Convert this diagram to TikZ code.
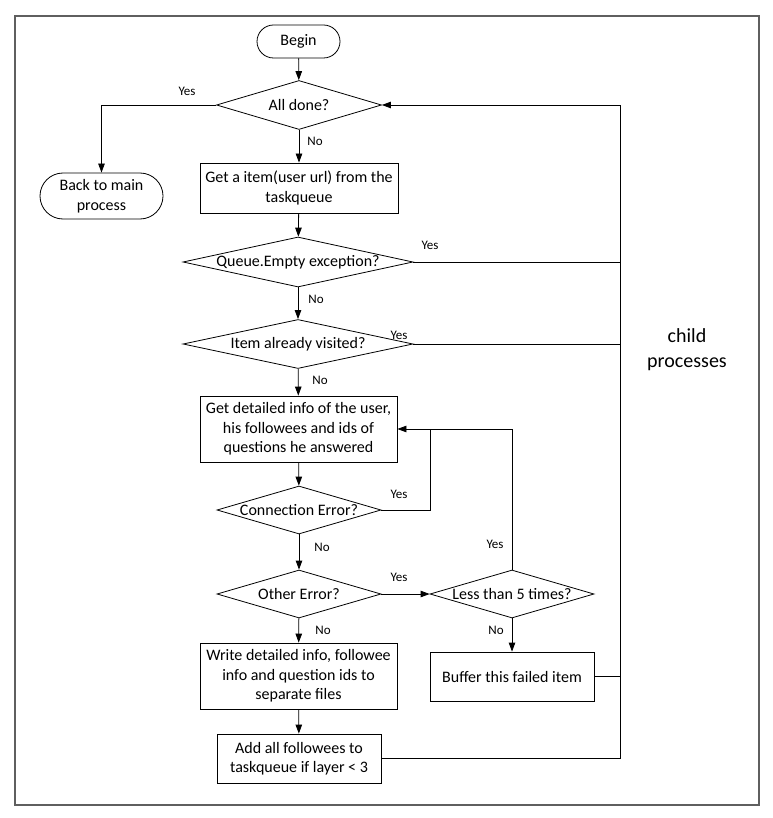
\documentclass[tikz,border=0pt]{standalone}
\usepackage{fontspec}
\setmainfont{Carlito}
\usetikzlibrary{positioning,arrows.meta,shapes.geometric,shapes.misc}
\definecolor{fgray}{RGB}{95,95,95}
\tikzset{
  term/.style={rounded rectangle, draw, line width=0.8pt, inner sep=0pt, align=center, font=\fontsize{16}{19.5}\selectfont},
  dec/.style={diamond, draw, line width=0.8pt, inner sep=-3pt, aspect=4.6, font=\fontsize{16}{19.5}\selectfont},
  proc/.style={rectangle, draw, line width=0.8pt, inner sep=0pt, align=center, font=\fontsize{16}{19.5}\selectfont},
  lbl/.style={font=\fontsize{13}{15}\selectfont, inner sep=0pt},
  arr/.style={-{Stealth[length=9pt,width=6.5pt,inset=0pt]}, line width=0.8pt},
  ln/.style={line width=0.8pt},
  flow/.style={x=1pt, y=-1pt}
}
\begin{document}
\begin{tikzpicture}[flow]
  \useasboundingbox (0,0) rectangle (772,818);
  \draw[fgray, line width=1.3pt] (15,16) rectangle (759,805);
  % main column
  \node[term, minimum width=83pt, minimum height=33pt] (begin) at (298.5,41.5) {Begin};
  \node[dec, minimum width=165pt, minimum height=49pt] (done) at (299,105) {All done?};
  \node[term, minimum width=123pt, minimum height=46pt] (back) at (101.5,196) {Back to main\\process};
  \node[proc, minimum width=198pt, minimum height=50pt] (get) at (299,188) {Get a item(user url) from the\\taskqueue};
  \node[dec, minimum width=230pt, minimum height=50pt] (empty) at (298,262) {Queue.Empty exception?};
  \node[dec, minimum width=230pt, minimum height=49pt] (visited) at (298,344) {Item already visited?};
  \node[proc, minimum width=197pt, minimum height=66pt] (info) at (298.5,429) {Get detailed info of the user,\\his followees and ids of\\questions he answered};
  \node[dec, minimum width=164pt, minimum height=48pt] (conn) at (299,510) {Connection Error?};
  \node[dec, minimum width=164pt, minimum height=48pt] (other) at (299,594) {Other Error?};
  \node[proc, minimum width=197pt, minimum height=66pt] (write) at (298.5,676) {Write detailed info, followee\\info and question ids to\\separate files};
  \node[proc, minimum width=164pt, minimum height=49pt] (add) at (299,758.5) {Add all followees to\\taskqueue if layer < 3};
  % retry branch
  \node[dec, minimum width=164pt, minimum height=48pt] (less) at (512,594) {Less than 5 times?};
  \node[proc, minimum width=164pt, minimum height=49pt] (buffer) at (512,676.5) {Buffer this failed item};
  \node[align=center, font=\fontsize{20}{25}\selectfont] (child) at (687,350) {child\\processes};
  \coordinate (rt) at (620,105);
  \coordinate (loop) at (430,429);
  % connectors
  \draw[arr] (begin) -- (done);
  \draw[arr] (done) -- (get);
  \draw[arr] (done.west) -| (back.north);
  \draw[arr] (get) -- (empty);
  \draw[arr] (empty) -- (visited);
  \draw[arr] (visited) -- (info);
  \draw[arr] (info) -- (conn);
  \draw[arr] (conn) -- (other);
  \draw[arr] (other) -- (write);
  \draw[arr] (write) -- (add);
  \draw[arr] (other) -- (less);
  \draw[arr] (less) -- (buffer);
  \draw[arr] (conn.east) -| (loop) -- (info.east);
  \draw[ln] (less.north) |- (loop);
  \draw[arr] (add.east) -| (rt) -- (done.east);
  \draw[ln] (empty.east) -- (empty.east -| rt);
  \draw[ln] (visited.east) -- (visited.east -| rt);
  \draw[ln] (buffer.east) -- (buffer.east -| rt);
  % labels
  \node[lbl] (y1) at (187,91) {Yes};
  \node[lbl] (n1) at (315,141) {No};
  \node[lbl] (y2) at (430,245) {Yes};
  \node[lbl] (n2) at (316,299) {No};
  \node[lbl] (y3) at (399,335) {Yes};
  \node[lbl] (n3) at (320,380) {No};
  \node[lbl] (y4) at (399,494) {Yes};
  \node[lbl] (n4) at (322,547) {No};
  \node[lbl] (y5) at (495,544) {Yes};
  \node[lbl] (y6) at (399,577) {Yes};
  \node[lbl] (n5) at (323,630) {No};
  \node[lbl] (n6) at (496,630) {No};
\end{tikzpicture}
\end{document}
